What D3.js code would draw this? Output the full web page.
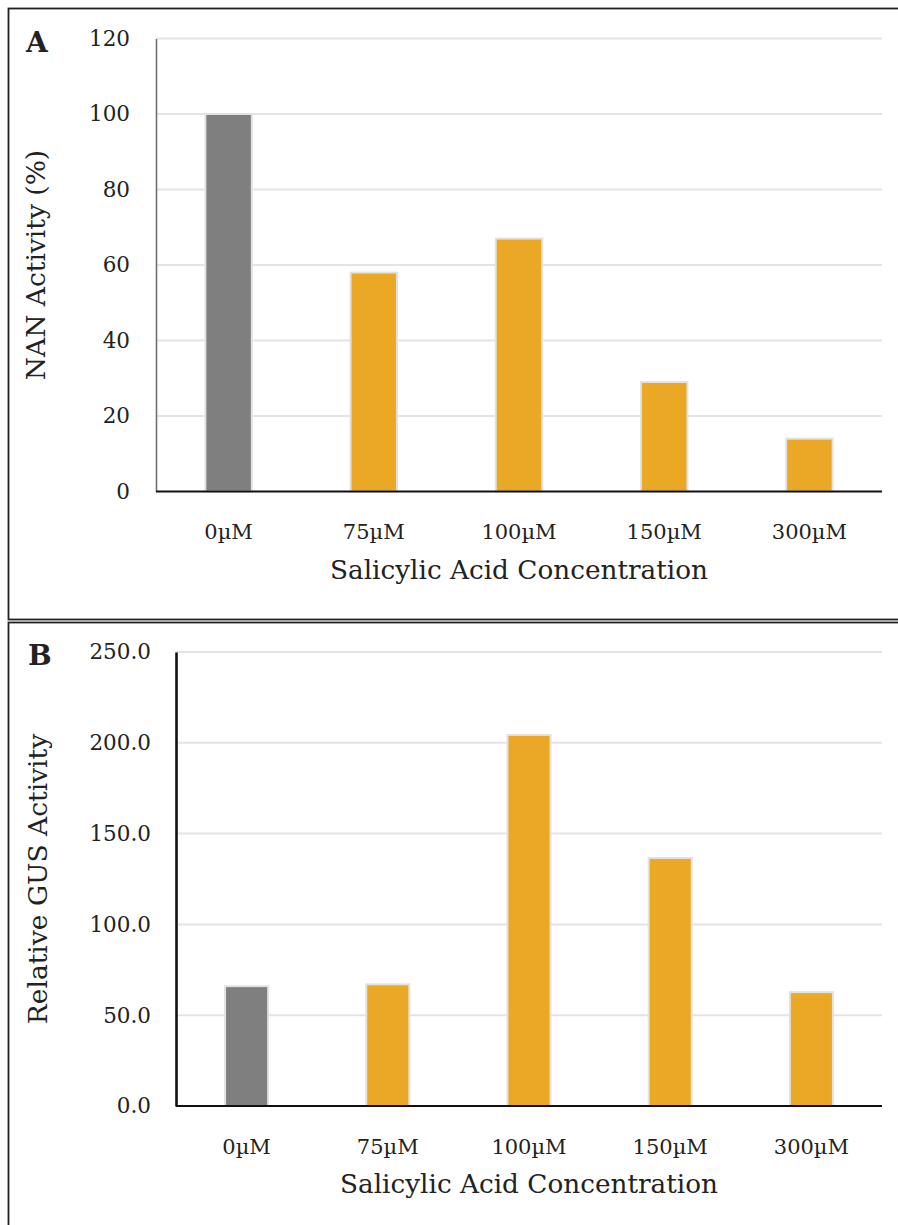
<!DOCTYPE html>
<html><head><meta charset="utf-8">
<script src="https://cdn.jsdelivr.net/npm/d3@7"></script>
<style>
html,body{margin:0;padding:0;background:#fff;}
svg{display:block;}
text{font-family:"DejaVu Serif","Liberation Serif",serif;fill:#222;}
</style></head>
<body>
<svg id="c" width="898" height="1225"></svg>
<script>
const categories = ["0µM","75µM","100µM","150µM","300µM"];
const nanActivity = [100, 58, 67, 29, 14];
const gusActivity = [66, 67, 204.3, 136.6, 62.7];
const ticksA = [0,20,40,60,80,100,120];
const ticksB = [0,50,100,150,200,250];
const barColors = ["#7f7f7f","#eaa824","#eaa824","#eaa824","#eaa824"];

const svg = d3.select("#c");

// panel frames
svg.append("rect").attr("x",8.5).attr("y",8.5).attr("width",900).attr("height",611)
  .attr("fill","none").attr("stroke","#222").attr("stroke-width",1.8);
svg.append("rect").attr("x",8.5).attr("y",622.5).attr("width",900).attr("height",620)
  .attr("fill","none").attr("stroke","#222").attr("stroke-width",1.8);

function panel(cfg){
  const g = svg.append("g");
  const x = d3.scaleBand().domain(categories).range([cfg.x0,cfg.x1])
    .paddingInner(cfg.pad).paddingOuter(cfg.pad/2);
  const y = d3.scaleLinear().domain([0,cfg.max]).range([cfg.y0,cfg.y1]);
  // gridlines
  g.selectAll(".grid").data(cfg.ticks.filter(t=>t>0)).join("line")
    .attr("x1",cfg.x0).attr("x2",cfg.x1)
    .attr("y1",d=>y(d)).attr("y2",d=>y(d))
    .attr("stroke","#e4e4e4").attr("stroke-width",2);
  // bars
  g.selectAll(".bar").data(cfg.values).join("rect")
    .attr("x",(d,i)=>x(categories[i]))
    .attr("width",x.bandwidth())
    .attr("y",d=>y(d))
    .attr("height",d=>y(0)-y(d))
    .attr("fill",(d,i)=>barColors[i])
    .attr("stroke","#e2e2e2").attr("stroke-width",2);
  // y axis
  const ya = d3.axisLeft(y).tickValues(cfg.ticks).tickSize(0).tickPadding(cfg.tickPad)
    .tickFormat(cfg.fmt);
  const yg = g.append("g").attr("transform",`translate(${cfg.x0},0)`).call(ya);
  yg.select(".domain").attr("stroke",cfg.yAxisColor).attr("stroke-width",cfg.yAxisW);
  yg.selectAll("text").style("font-size","21.5px").attr("fill","#222")
    .style("font-family","'DejaVu Serif',serif");
  // x axis
  const xa = d3.axisBottom(x).tickSize(0).tickPadding(cfg.xTickPad);
  const xg = g.append("g").attr("transform",`translate(0,${cfg.y0})`).call(xa);
  xg.select(".domain").attr("stroke","#111").attr("stroke-width",2.2)
    .attr("d",`M${cfg.x0},0H${cfg.x1}`);
  xg.selectAll("text").style("font-size","21px").attr("fill","#222")
    .style("font-family","'DejaVu Serif',serif");
  // titles
  g.append("text").attr("x",(cfg.x0+cfg.x1)/2).attr("y",cfg.xTitleY)
    .attr("text-anchor","middle").style("font-size","26.3px").text("Salicylic Acid Concentration");
  g.append("text").attr("transform",`translate(${cfg.yTitleX},${(cfg.y0+cfg.y1)/2}) rotate(-90)`)
    .attr("text-anchor","middle").style("font-size","26.5px").text(cfg.yTitle);
  g.append("text").attr("x",cfg.lx).attr("y",cfg.ly).style("font-size","28px")
    .style("font-weight","bold").attr("fill","#111").text(cfg.label);
}

panel({x0:156,x1:882,y0:491.5,y1:38.5,max:120,ticks:ticksA,values:nanActivity,pad:0.68,
  fmt:d3.format("d"),tickPad:26,xTickPad:33,yAxisColor:"#6e6e6e",yAxisW:1.6,
  xTitleY:579,yTitleX:45,yTitle:"NAN Activity (%)",label:"A",lx:26,ly:52});
panel({x0:176,x1:882,y0:1106,y1:652,max:250,ticks:ticksB,values:gusActivity,pad:0.695,
  fmt:d3.format(".1f"),tickPad:25,xTickPad:33,yAxisColor:"#111",yAxisW:2.6,
  xTitleY:1193,yTitleX:47,yTitle:"Relative GUS Activity",label:"B",lx:28,ly:665});
</script>
</body></html>
